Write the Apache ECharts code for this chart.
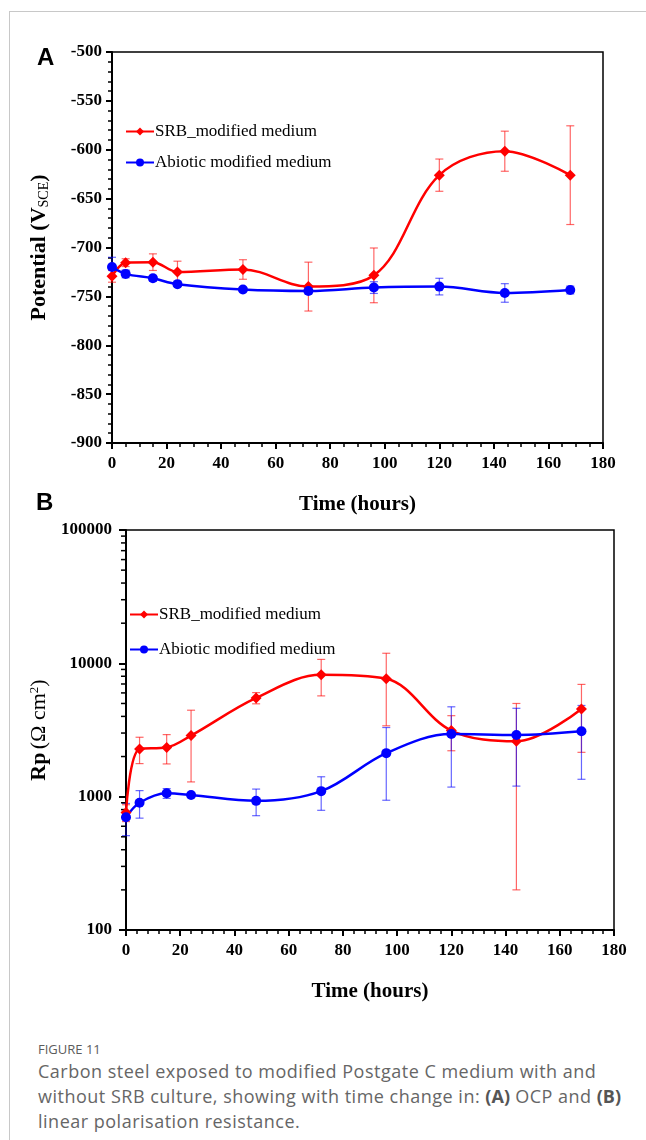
<!DOCTYPE html>
<html>
<head>
<meta charset="utf-8">
<script src="https://cdn.jsdelivr.net/npm/echarts@6/dist/echarts.min.js"></script>
<style>
  html, body { margin: 0; padding: 0; background: #fff; }
  #page { position: relative; width: 646px; height: 1140px; overflow: hidden; }
  #chart { position: absolute; left: 0; top: 0; width: 646px; height: 1030px; }
  .frame-top { position: absolute; z-index: 2; left: 9px; top: 11px; width: 637px; height: 1px; background: #c8c8c8; }
  .frame-left { position: absolute; z-index: 2; left: 9px; top: 11px; width: 1px; height: 1129px; background: #c8c8c8; }
  .caption { position: absolute; left: 38px; top: 1040px; width: 600px; font-family: 'Open Sans', Lato, sans-serif; color: #666; white-space: nowrap; }
  .caption .fig { font-size: 13px; line-height: 18px; color: #5c5c5c; }
  .caption .txt { font-size: 18px; line-height: 25px; margin-top: 1px; letter-spacing: 0.5px; }
  .caption b { font-weight: 700; color: #555; letter-spacing: 0; }
</style>
</head>
<body>
<div id="page">
  <div class="frame-top"></div>
  <div class="frame-left"></div>
  <div id="chart"></div>
  <div class="caption">
    <div class="fig">FIGURE 11</div>
    <div class="txt">Carbon steel exposed to modified Postgate C medium with and<br>without SRB culture, showing with time change in: <b>(A)</b> OCP and <b>(B)</b><br>linear polarisation resistance.</div>
  </div>
</div>
<script>
  // sampling times (hours)
  const hours = [0, 5, 15, 24, 48, 72, 96, 120, 144, 168]

  // panel A: open circuit potential (mV vs SCE)
  const srbPot = [-729.5, -715.5, -715, -725, -722.5, -740, -728.5, -626, -601.5, -626]
  const srbPotErr = [6, 4, 8.5, 11, 10, 25, 28, 16.5, 20.5, 50.5]
  const abioPot = [-720, -727, -731.5, -737.5, -743, -744.5, -741, -740, -746.5, -743.5]
  const abioPotErr = [10, 4, 3, 2, 2, 3, 6, 8.5, 9.5, 4]

  // panel B: polarisation resistance (ohm cm2)
  const srbRp = [760, 2280, 2340, 2870, 5500, 8200, 7650, 3130, 2600, 4550]
  const srbRpErr = [110, 510, 580, 1580, 530, 2500, 4250, 920, 2400, 2400]
  const abioRp = [700, 900, 1060, 1030, 930, 1100, 2120, 2950, 2900, 3090]
  const abioRpErr = [190, 210, 90, 40, 210, 310, 1180, 1770, 1700, 1740]

  // log axis minor ticks
  const logMinor = [200, 300, 400, 500, 600, 700, 800, 900,
    2000, 3000, 4000, 5000, 6000, 7000, 8000, 9000,
    20000, 30000, 40000, 50000, 60000, 70000, 80000, 90000]

  const SRB = 'SRB_modified medium'
  const ABIO = 'Abiotic modified medium'
  const RED = '#ff0000'
  const BLUE = '#0000ff'
  const SERIF = 'Liberation Serif'

  const pairs = (xs, ys) => xs.map((x, i) => [x, ys[i]])
  const errRows = (xs, ys, es) => xs.map((x, i) => [x, ys[i] - es[i], ys[i] + es[i]])

  function errorBars(idx, rows, color) {
    return {
      type: 'custom',
      xAxisIndex: idx,
      yAxisIndex: idx,
      z: 1,
      silent: true,
      encode: { x: 0, y: [1, 2] },
      data: rows,
      renderItem: function(params, api) {
        const top = api.coord([api.value(0), api.value(2)])
        const bot = api.coord([api.value(0), api.value(1)])
        const w = 4
        const style = { stroke: color, lineWidth: 1.2 }
        return {
          type: 'group',
          children: [
            { type: 'line', shape: { x1: top[0], y1: top[1], x2: bot[0], y2: bot[1] }, style: style },
            { type: 'line', shape: { x1: top[0] - w, y1: top[1], x2: top[0] + w, y2: top[1] }, style: style },
            { type: 'line', shape: { x1: bot[0] - w, y1: bot[1], x2: bot[0] + w, y2: bot[1] }, style: style }
          ]
        }
      }
    }
  }

  function lineSeries(idx, name, data, color, symbol, size) {
    return {
      type: 'line',
      name: name,
      xAxisIndex: idx,
      yAxisIndex: idx,
      data: data,
      smooth: 0.35,
      z: 3,
      symbol: symbol,
      symbolSize: size,
      itemStyle: { color: color },
      lineStyle: { color: color, width: 2.5 }
    }
  }

  const tickLabel = { color: '#000', fontFamily: SERIF, fontWeight: 'bold', fontSize: 17 }
  const axisLine = { show: true, onZero: false, lineStyle: { color: '#000', width: 2 } }

  function xAxisFor(idx, minorSplit) {
    return {
      gridIndex: idx,
      type: 'value',
      min: 0,
      max: 180,
      interval: 20,
      axisLine: axisLine,
      axisTick: { show: true, length: 6, lineStyle: { color: '#000', width: 2 } },
      minorTick: { show: true, splitNumber: minorSplit, length: 4, lineStyle: { color: '#000', width: 1.5 } },
      splitLine: { show: false },
      axisLabel: Object.assign({ margin: 12 }, tickLabel),
      name: 'Time (hours)',
      nameLocation: 'middle',
      nameGap: 51,
      nameTextStyle: { color: '#000', fontFamily: SERIF, fontWeight: 'bold', fontSize: 21 }
    }
  }

  const legendText = { color: '#000', fontFamily: SERIF, fontSize: 17, padding: [0, 0, 0, -4] }

  const option = {
    animation: false,
    grid: [
      { left: 112, top: 52, width: 491, height: 391, show: true, borderColor: '#000', borderWidth: 1.5 },
      { left: 126, top: 530, width: 488, height: 400, show: true, borderColor: '#000', borderWidth: 1.5 }
    ],
    legend: [
      {
        orient: 'vertical', left: 120, top: 118, itemGap: 14, itemWidth: 28, itemHeight: 10,
        data: [SRB, ABIO], textStyle: legendText
      },
      {
        orient: 'vertical', left: 124, top: 601, itemGap: 18, itemWidth: 28, itemHeight: 10,
        data: [SRB, ABIO], textStyle: legendText
      }
    ],
    graphic: [
      { type: 'text', left: 37, top: 46, style: { text: 'A', font: 'bold 24px Liberation Sans', fill: '#000' } },
      { type: 'text', left: 36, top: 491, style: { text: 'B', font: 'bold 24px Liberation Sans', fill: '#000' } }
    ],
    xAxis: [xAxisFor(0, 4), xAxisFor(1, 5)],
    yAxis: [
      {
        gridIndex: 0,
        type: 'value',
        min: -900,
        max: -500,
        interval: 50,
        axisLine: axisLine,
        axisTick: { show: true, length: 6, lineStyle: { color: '#000', width: 2 } },
        minorTick: { show: true, splitNumber: 5, length: 4, lineStyle: { color: '#000', width: 1.5 } },
        splitLine: { show: false },
        axisLabel: Object.assign({ margin: 10 }, tickLabel),
        name: '{b|Potential (V}{s|SCE}{b|)}',
        nameLocation: 'middle',
        nameGap: 61,
        nameTextStyle: {
          rich: {
            b: { color: '#000', fontFamily: SERIF, fontWeight: 'bold', fontSize: 22 },
            s: { color: '#000', fontFamily: SERIF, fontSize: 14, padding: [10, 0, 0, 0] }
          }
        }
      },
      {
        gridIndex: 1,
        type: 'log',
        logBase: 10,
        min: 100,
        max: 100000,
        axisLine: axisLine,
        axisTick: { show: true, length: 7, lineStyle: { color: '#000', width: 2 } },
        minorTick: { show: false },
        splitLine: { show: false },
        axisLabel: Object.assign({ margin: 14, formatter: v => String(Math.round(v)) }, tickLabel),
        name: '{b|Rp} {n|(Ω cm}{sup|2}{n|)}',
        nameLocation: 'middle',
        nameGap: 70,
        nameTextStyle: {
          rich: {
            b: { color: '#000', fontFamily: SERIF, fontWeight: 'bold', fontSize: 22 },
            n: { color: '#000', fontFamily: SERIF, fontSize: 22 },
            sup: { color: '#000', fontFamily: SERIF, fontSize: 13, padding: [0, 0, 10, 0] }
          }
        }
      }
    ],
    series: [
      errorBars(0, errRows(hours, srbPot, srbPotErr), 'rgba(255,0,0,0.6)'),
      errorBars(0, errRows(hours, abioPot, abioPotErr), 'rgba(0,0,255,0.6)'),
      lineSeries(0, SRB, pairs(hours, srbPot), RED, 'diamond', 11),
      lineSeries(0, ABIO, pairs(hours, abioPot), BLUE, 'circle', 10),
      errorBars(1, errRows(hours, srbRp, srbRpErr), 'rgba(255,0,0,0.6)'),
      errorBars(1, errRows(hours, abioRp, abioRpErr), 'rgba(0,0,255,0.6)'),
      lineSeries(1, SRB, pairs(hours, srbRp), RED, 'diamond', 11),
      lineSeries(1, ABIO, pairs(hours, abioRp), BLUE, 'circle', 10),
      {
        // log-scale minor ticks (2..9 per decade)
        type: 'custom',
        xAxisIndex: 1,
        yAxisIndex: 1,
        silent: true,
        encode: { x: 0, y: 1 },
        data: logMinor.map(v => [0, v]),
        renderItem: function(params, api) {
          const p = api.coord([0, api.value(1)])
          return {
            type: 'line',
            shape: { x1: p[0] - 5, y1: p[1], x2: p[0], y2: p[1] },
            style: { stroke: '#000', lineWidth: 1.5 }
          }
        }
      }
    ]
  }

  const chart = echarts.init(document.getElementById('chart'))
  chart.setOption(option)
</script>
</body>
</html>
